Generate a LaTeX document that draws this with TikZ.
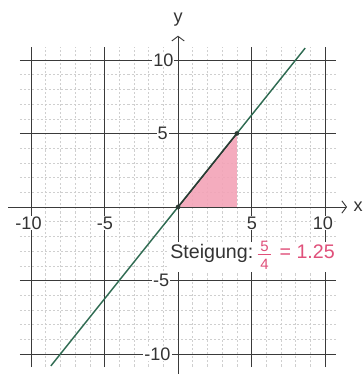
\documentclass[tikz,border=0pt]{standalone}
\usepackage{fontspec}
\setmainfont{Liberation Sans}
\usetikzlibrary{arrows.meta}
\definecolor{gridmajor}{HTML}{3A3A3A}
\definecolor{gridminor}{HTML}{CFCFCF}
\definecolor{linegreen}{HTML}{2F6B52}
\definecolor{segdark}{HTML}{2B3A33}
\definecolor{pinkfill}{HTML}{F3A3B7}
\definecolor{pinktext}{HTML}{E0507A}
\definecolor{txt}{HTML}{333333}
\begin{document}
\begin{tikzpicture}[x=0.5cm,y=0.5cm,
  minorline/.style={gridminor, line width=0.5pt, dash pattern=on 2pt off 2pt},
  majorline/.style={gridmajor, line width=0.9pt},
  axisline/.style={gridmajor, line width=0.9pt, -{Straight Barb[length=4.5pt,width=12pt]}},
  ticklabel/.style={font=\fontsize{17.5}{18}\selectfont, text=txt, fill=white, inner sep=1pt},
  axislabel/.style={font=\fontsize{17.5}{18}\selectfont, text=txt, inner sep=0pt},
  slopetext/.style={font=\fontsize{19}{20}\selectfont, inner sep=0pt},
  fracdigit/.style={font=\fontsize{14.5}{15}\selectfont, text=pinktext, inner sep=0pt, anchor=base},
  dotmark/.style={fill=segdark},
]
\useasboundingbox (-12.11,-11.36) rectangle (12.585,14.08);
% minor grid
\foreach \i in {-10,...,10} {
  \draw[minorline] (\i,-10.85) -- (\i,10.85);
  \draw[minorline] (-10.75,\i) -- (10.75,\i);
}
% named points
\coordinate (O) at (0,0);
\coordinate (Q) at (4,0);
\coordinate (P) at (4,5);
\coordinate (A) at (-8.65,-10.81);
\coordinate (B) at (8.65,10.81);
% triangle
\fill[pinkfill, opacity=0.9] (O) -- (Q) -- (P) -- cycle;
% major grid
\foreach \i in {-10,-5,5,10} {
  \draw[majorline] (\i,-10.9) -- (\i,10.85);
  \draw[majorline] (-10.75,\i) -- (10.75,\i);
}
% axes
\coordinate (xs) at (-11.56,0);
\coordinate (xe) at (11.5,0);
\coordinate (ys) at (0,-11.4);
\coordinate (ye) at (0,11.65);
\draw[axisline] (xs) -- (xe);
\draw[axisline] (ys) -- (ye);
\node[axislabel] (xl) at (12.25,0.05) {x};
\node[axislabel] (yl) at (0,12.75) {y};
% tick labels
\node[ticklabel] (y10) at (-1.0,10) {10};
\node[ticklabel] (y5) at (-1.05,5) {5};
\node[ticklabel] (ym5) at (-1.15,-5) {-5};
\node[ticklabel] (ym10) at (-1.4,-10) {-10};
\node[ticklabel] (xm10) at (-10.17,-1.09) {-10};
\node[ticklabel] (xm5) at (-4.97,-1.09) {-5};
\node[ticklabel] (x5) at (5.03,-1.09) {5};
\node[ticklabel] (x10) at (9.86,-1.09) {10};
% the line
\draw[linegreen, line width=1.4pt] (A) -- (B);
\draw[segdark, line width=1.4pt] (O) -- (P);
\fill[dotmark] (O) circle (2.3pt);
\fill[dotmark] (P) circle (2.3pt);
% slope label
\coordinate (bgA) at (-0.7,-4.45);
\coordinate (bgB) at (11.25,-2.35);
\fill[white] (bgA) rectangle (bgB);
\node[slopetext, anchor=base west, text=txt] (steig) at (-0.54,-3.47) {Steigung:};
\node[fracdigit] (num) at (5.88,-3.06) {5};
\node[fracdigit] (den) at (5.88,-4.25) {4};
\coordinate (barL) at (5.42,-3.22);
\coordinate (barR) at (6.34,-3.22);
\draw[pinktext, line width=0.9pt] (barL) -- (barR);
\node[slopetext, anchor=base west, text=pinktext] (eq) at (6.9,-3.47) {= 1.25};
\end{tikzpicture}
\end{document}
